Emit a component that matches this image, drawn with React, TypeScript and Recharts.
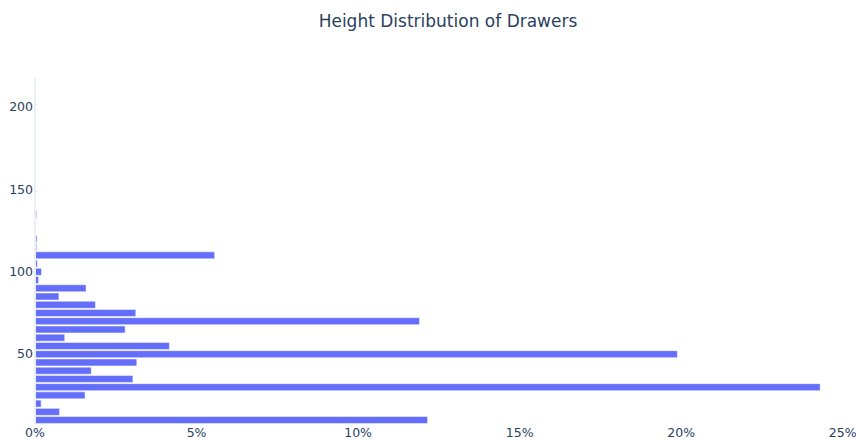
import { Bar, BarChart, ReferenceLine, XAxis, YAxis } from "recharts";

// bin centres (height), step 5
const heightBins = [
  10, 15, 20, 25, 30, 35, 40, 45, 50, 55, 60, 65, 70, 75, 80, 85, 90, 95, 100, 105,
  110, 115, 120, 125, 130, 135, 140, 145, 150, 155, 160, 165, 170, 175, 180, 185,
  190, 195, 200, 205, 210, 215,
];

// share of drawers per bin, in percent
const sharePct = [
  12.15, 0.76, 0.19, 1.55, 24.3, 3.03, 1.74, 3.15, 19.88, 4.16, 0.92, 2.79, 11.9, 3.12,
  1.87, 0.74, 1.58, 0.11, 0.2, 0.07, 5.56, 0.05, 0.06, 0.02, 0.02, 0.05, 0.02, 0.01,
  0.01, 0.01, 0.01, 0, 0, 0, 0, 0, 0, 0, 0, 0, 0, 0.01,
];

const xTicks = [0, 5, 10, 15, 20, 25];
const yLabelled = [50, 100, 150, 200];

const FONT = '"DejaVu Sans", verdana, sans-serif';
const INK = "#2a3f5f";

const data = heightBins.map((h, i) => ({ bin: h, pct: sharePct[i] }));

export default function App() {
  return (
    <div style={{ position: "absolute", left: 0, top: 0, width: 856, height: 439, background: "#fff" }}>
      <div
        style={{
          position: "absolute",
          top: 11,
          left: 448,
          transform: "translateX(-50%)",
          fontFamily: FONT,
          fontSize: 17,
          lineHeight: "20px",
          color: INK,
          whiteSpace: "nowrap",
        }}
      >
        Height Distribution of Drawers
      </div>
      <BarChart
        width={856}
        height={439}
        data={data}
        layout="vertical"
        margin={{ top: 78, right: 10, left: 0, bottom: 0 }}
        barCategoryGap="10%"
        style={{ overflow: "visible" }}
      >
        <XAxis
          type="number"
          domain={[0, 25.1]}
          ticks={xTicks}
          tickFormatter={(v) => `${v}%`}
          axisLine={false}
          tickLine={false}
          tickSize={0}
          tickMargin={4}
          height={15}
          tick={{ fontSize: 12.5, fill: INK, fontFamily: FONT }}
          allowDataOverflow
        />
        <YAxis
          type="category"
          dataKey="bin"
          reversed
          interval={0}
          width={35}
          axisLine={false}
          tickLine={false}
          tickSize={0}
          tickMargin={2}
          tickFormatter={(v) => (yLabelled.includes(v) ? String(v) : "")}
          tick={{ fontSize: 12.5, fill: INK, fontFamily: FONT }}
        />
        <ReferenceLine x={0} stroke="#EBF0F8" strokeWidth={2} />
        <Bar dataKey="pct" fill="#636EFA" stroke="#fff" strokeWidth={0.5} isAnimationActive={false} />
      </BarChart>
    </div>
  );
}
